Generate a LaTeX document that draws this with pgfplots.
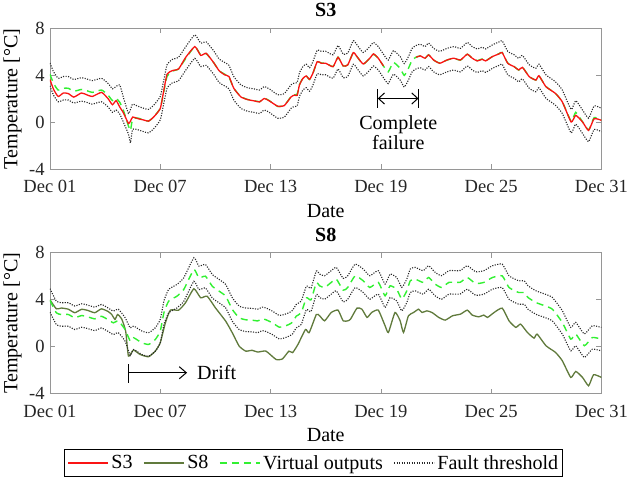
\documentclass[border=0pt]{standalone}
\usepackage{fontspec}
\setmainfont{Liberation Serif}
\usepackage{pgfplots}
\usepackage{pgfplotstable}
\pgfplotsset{compat=1.18}
\usetikzlibrary{arrows.meta}

\definecolor{cSthree}{RGB}{250,20,20}
\definecolor{cSeight}{RGB}{96,122,60}
\definecolor{cV}{RGB}{50,240,50}
\definecolor{cT}{RGB}{40,40,40}
\definecolor{cFrame}{RGB}{150,150,150}

% top panel: day, virtual output, upper / lower fault threshold, S3
\pgfplotstableread{
d v up lo s
1.00 4.10 5.05 3.10 3.65
1.20 3.30 4.30 2.30 2.80
1.45 2.75 3.75 1.75 2.20
1.73 2.90 3.90 1.90 2.50
2.00 2.90 3.90 1.90 2.45
2.30 2.65 3.65 1.65 2.15
2.71 2.80 3.80 1.80 2.50
3.00 2.70 3.70 1.70 2.35
3.30 2.55 3.55 1.55 2.20
3.81 2.75 3.75 1.75 2.55
4.17 2.30 3.30 1.30 2.00
4.40 1.85 2.85 0.85 1.50
4.60 2.05 3.05 1.05 1.85
4.80 1.70 3.20 0.70 1.30
5.00 1.00 2.10 0.00 0.80
5.27 -0.30 0.75 -1.00 -0.10
5.38 -0.70 1.10 -1.75 0.10
5.50 0.30 1.55 -0.60 0.45
5.82 0.35 1.35 -0.65 0.30
6.10 0.20 1.20 -0.80 0.20
6.36 0.10 1.10 -0.90 0.10
6.64 0.45 1.45 -0.55 0.45
7.00 1.20 2.20 0.20 1.17
7.18 2.50 3.50 1.50 2.60
7.37 3.90 4.90 2.90 4.10
7.65 4.35 5.35 3.35 4.40
8.00 4.55 5.55 3.55 4.55
8.37 5.40 6.40 4.40 5.50
8.88 6.45 7.45 5.45 6.45
9.20 5.75 6.75 4.75 5.70
9.50 5.85 6.85 4.85 5.88
9.90 5.10 6.10 4.10 5.10
10.20 4.40 5.40 3.40 4.40
10.50 4.10 5.10 3.10 4.05
10.74 3.85 4.85 2.85 3.90
11.00 2.90 3.90 1.90 2.90
11.38 2.20 3.20 1.20 2.17
11.74 1.95 2.95 0.95 1.94
12.10 1.85 2.85 0.85 1.83
12.40 1.75 2.75 0.75 1.74
12.66 2.05 3.05 1.05 2.03
12.93 1.85 2.85 0.85 1.83
13.39 1.35 2.35 0.35 1.37
13.75 1.45 2.45 0.45 1.43
14.12 2.20 3.20 1.20 2.17
14.30 2.35 3.35 1.35 2.32
14.45 2.40 3.40 1.40 2.30
14.57 3.20 4.20 2.20 3.17
14.76 3.75 4.75 2.75 3.74
14.94 3.95 4.95 2.95 3.95
15.12 3.65 4.65 2.65 3.66
15.30 4.15 5.15 3.15 4.17
15.54 5.15 6.15 4.15 5.17
15.76 5.05 6.05 4.05 5.03
16.00 5.05 6.05 4.05 5.03
16.40 4.75 5.75 3.75 4.74
16.67 5.55 6.55 4.55 5.54
16.95 4.80 5.80 3.80 4.80
17.20 4.90 5.90 3.90 4.89
17.50 5.95 6.95 4.95 5.94
17.70 5.60 6.60 4.60 5.60
18.04 4.95 5.95 3.95 4.97
18.40 5.45 6.45 4.45 5.46
18.60 5.80 6.80 4.80 5.83
18.86 5.45 6.45 4.45 5.46
19.14 4.80 5.80 3.80 4.80
19.40 4.30 5.30 3.30 nan
19.68 5.10 6.10 4.10 nan
20.05 4.60 5.60 3.60 nan
20.27 4.00 5.00 3.00 nan
20.50 4.60 5.60 3.60 nan
20.70 5.30 6.30 4.30 nan
20.92 5.55 6.55 4.55 5.54
21.14 5.65 6.65 4.65 5.66
21.40 5.45 6.45 4.45 5.46
21.60 5.75 6.75 4.75 5.74
21.87 5.30 6.30 4.30 5.31
22.20 5.05 6.05 4.05 5.03
22.60 5.30 6.30 4.30 5.31
22.96 5.45 6.45 4.45 5.46
23.33 5.30 6.30 4.30 5.31
23.70 5.80 6.80 4.80 5.80
23.97 5.45 6.45 4.45 5.46
24.24 5.25 6.25 4.25 5.23
24.52 5.40 6.40 4.40 5.37
24.70 5.25 6.25 4.25 5.23
25.07 5.60 6.60 4.60 5.60
25.43 5.85 6.85 4.85 5.83
25.60 5.95 6.95 4.95 5.94
25.90 5.05 6.05 4.05 5.03
26.25 4.75 5.75 3.75 4.74
26.50 4.45 5.45 3.45 4.46
26.70 4.70 5.70 3.70 4.68
27.07 3.90 4.90 2.90 3.89
27.43 3.60 4.60 2.60 3.60
27.60 3.95 4.95 2.95 3.97
27.98 3.05 4.05 2.05 3.03
28.50 2.45 3.45 1.45 2.46
28.87 1.75 2.75 0.75 1.74
29.35 0.10 1.10 -0.90 0.03
29.60 0.85 1.85 -0.15 0.60
29.97 0.05 1.05 -0.95 0.03
30.30 -0.65 0.35 -1.65 -0.69
30.60 0.40 1.40 -0.60 0.31
31.00 0.20 1.20 -0.80 0.17
}\topdata

% bottom panel: virtual output and fault thresholds
\pgfplotstableread{
d v up lo
1.00 3.95 4.95 2.95
1.35 2.89 3.89 1.89
1.62 2.75 3.75 1.75
2.00 2.75 3.75 1.75
2.35 2.47 3.47 1.47
2.72 2.66 3.66 1.66
3.05 2.55 3.55 1.55
3.44 2.38 3.38 1.38
3.80 2.60 3.60 1.60
4.17 2.30 3.30 1.30
4.45 2.04 3.04 1.04
4.72 2.20 3.20 1.20
5.09 1.47 2.47 0.47
5.37 0.48 1.60 -0.75
5.55 0.77 1.77 -0.23
6.00 0.34 1.34 -0.66
6.37 0.20 1.20 -0.80
6.73 0.62 1.62 -0.38
7.00 1.33 2.33 0.33
7.20 2.90 3.90 1.90
7.46 3.89 4.89 2.89
7.91 4.31 5.31 3.31
8.28 4.88 5.88 3.88
8.83 6.58 7.58 5.58
9.10 5.87 6.87 4.87
9.46 6.01 7.01 5.01
9.83 5.16 6.16 4.16
10.20 4.74 5.74 3.74
10.56 4.31 5.31 3.31
10.92 3.18 4.18 2.18
11.29 2.47 3.47 1.47
11.65 2.30 3.30 1.30
12.00 2.27 3.27 1.27
12.30 2.20 3.20 1.20
12.55 2.38 3.38 1.38
12.75 2.30 3.30 1.30
13.10 2.04 3.04 1.04
13.47 1.67 2.67 0.67
13.75 1.75 2.75 0.75
14.00 1.90 2.90 0.90
14.20 2.10 3.10 1.10
14.40 2.61 3.61 1.61
14.67 2.90 3.90 1.90
14.95 4.17 5.17 3.17
15.20 4.00 5.00 3.00
15.49 5.45 6.45 4.45
15.67 5.19 6.19 4.19
15.94 5.05 6.05 4.05
16.30 5.48 6.48 4.48
16.58 5.76 6.76 4.76
16.95 4.82 5.82 3.82
17.20 5.05 6.05 4.05
17.60 6.04 7.04 5.04
18.04 5.62 6.62 4.62
18.40 5.05 6.05 4.05
18.86 5.48 6.48 4.48
19.23 4.34 5.34 3.34
19.50 5.19 6.19 4.19
19.86 4.90 5.90 3.90
20.14 4.06 5.06 3.06
20.41 4.76 5.76 3.76
20.60 5.62 6.62 4.62
20.87 5.76 6.76 4.76
21.30 5.48 6.48 4.48
21.60 5.90 6.90 4.90
21.96 5.33 6.33 4.33
22.30 5.05 6.05 4.05
22.70 5.48 6.48 4.48
23.06 5.48 6.48 4.48
23.33 5.50 6.50 4.50
23.70 5.90 6.90 4.90
24.15 5.39 6.39 4.39
24.60 5.48 6.48 4.48
25.07 5.90 6.90 4.90
25.60 6.04 7.04 5.04
25.97 5.05 6.05 4.05
26.50 4.62 5.62 3.62
26.80 4.62 5.62 3.62
27.00 4.20 5.20 3.20
27.43 3.77 4.77 2.77
27.90 3.50 4.50 2.50
28.33 3.20 4.20 2.20
28.87 2.07 3.07 1.07
29.33 0.65 1.65 -0.35
29.60 1.08 2.08 0.08
30.07 0.09 1.09 -0.91
30.50 0.79 1.79 -0.21
31.00 0.65 1.65 -0.35
}\botdata

% bottom panel: S8 measurements
\pgfplotstableread{
d s
1.00 4.00
1.35 3.23
1.62 3.30
2.00 3.20
2.35 2.90
2.72 3.19
3.05 3.10
3.44 2.90
3.80 3.23
4.17 3.00
4.36 2.75
4.54 2.33
4.68 2.75
4.90 2.38
5.12 1.33
5.27 -0.79
5.54 -0.28
5.90 -0.65
6.36 -0.85
6.73 -0.37
7.00 0.34
7.28 2.04
7.55 3.12
8.00 3.12
8.37 3.74
8.83 4.94
9.20 4.17
9.55 4.31
10.00 3.32
10.56 2.18
10.92 1.19
11.29 0.06
11.65 -0.37
12.00 -0.30
12.30 -0.45
12.75 -0.37
13.30 -1.08
13.65 -1.03
14.00 -0.37
14.20 -0.50
14.49 0.20
14.90 1.47
15.10 1.20
15.49 2.75
15.67 2.64
15.94 2.21
16.30 2.92
16.67 3.12
16.95 2.21
17.20 2.21
17.35 2.35
17.70 3.29
17.97 3.20
18.25 2.50
18.50 2.92
18.86 3.12
19.23 1.79
19.41 1.22
19.77 2.92
20.05 2.21
20.23 1.22
20.50 2.64
20.78 2.92
21.05 3.20
21.24 2.92
21.50 3.06
21.78 2.92
22.15 2.50
22.50 2.27
22.90 2.64
23.33 2.78
23.70 3.12
23.97 2.70
24.33 2.55
24.60 2.70
24.80 2.50
25.16 2.92
25.60 3.29
25.97 2.21
26.34 1.65
26.60 1.93
26.97 1.22
27.33 0.74
27.50 1.08
27.98 0.09
28.50 -0.48
28.87 -1.19
29.33 -2.61
29.60 -2.10
29.97 -2.61
30.30 -3.32
30.57 -2.38
31.00 -2.61
}\seightdata

\newcommand{\bigfont}{\fontsize{20}{20}\selectfont}
\newcommand{\tickfont}{\fontsize{18.5}{20}\selectfont}

\tikzset{
  sthree/.style={cSthree, line width=1.3bp},
  seight/.style={cSeight, line width=1.3bp},
  virt/.style={cV, line width=1.4bp, dash pattern=on 7bp off 5bp},
  thr/.style={cT, line width=1.1bp, dash pattern=on 1.1bp off 1.4bp},
}

\pgfplotsset{
  myaxis/.style={
    scale only axis, width=548bp, height=140bp,
    anchor=north west,
    xmin=1, xmax=31, ymin=-4, ymax=8,
    xtick={1,7,13,19,25,31},
    xticklabels={Dec 01,Dec 07,Dec 13,Dec 19,Dec 25,Dec 31},
    ytick={-4,0,4,8},
    tick align=inside, major tick length=5bp,
    axis line style={cFrame, line width=0.7bp},
    tick style={cFrame, line width=0.7bp},
    /pgf/number format/assume math mode=true,
    every tick label/.append style={font=\tickfont, text=black!85},
    xticklabel style={font=\tickfont, inner sep=0pt, yshift=-11bp},
    yticklabel style={font=\tickfont, inner sep=0pt, xshift=-5bp},
    xlabel style={font=\bigfont, at={(axis description cs:0.5,-0.295)}, anchor=center},
    ylabel style={font=\bigfont, at={(axis description cs:-0.068,0.5)}, anchor=center},
    title style={font=\bigfont\bfseries, at={(axis description cs:0.5,1.0)}, anchor=south, yshift=2bp},
    xlabel={Date}, ylabel={Temperature [°C]},
    unbounded coords=jump,
    legend image code/.code={\draw[#1] (0bp,0bp) -- (40bp,0bp);},
  },
}

\begin{document}
\begin{tikzpicture}
\begin{axis}[myaxis, at={(0,0)}, title={S3}]
  \addplot[thr, smooth, tension=0.3] table[x=d, y=up] {\topdata};
  \addplot[thr, smooth, tension=0.3] table[x=d, y=lo] {\topdata};
  \addplot[virt, smooth, tension=0.3] table[x=d, y=v] {\topdata};
  \addplot[sthree, smooth, tension=0.3] table[x=d, y=s] {\topdata};
  \draw[line width=1bp, {Straight Barb[length=6bp,width=11bp]}-{Straight Barb[length=6bp,width=11bp]}]
      (axis cs:18.83,2.03) -- (axis cs:21.05,2.03);
  \draw[line width=1bp] (axis cs:18.83,2.83) -- (axis cs:18.83,1.23);
  \draw[line width=1bp] (axis cs:21.05,2.83) -- (axis cs:21.05,1.23);
  \node[align=center, inner sep=0pt, font=\bigfont] at (axis cs:19.95,-0.85) {Complete\\failure};
\end{axis}

\begin{axis}[myaxis, at={(0,-223bp)}, title={S8},
    legend columns=4,
    legend style={at={(axis description cs:0.478,-0.395)}, anchor=north, draw=black, line width=0.7bp,
      font=\bigfont, inner xsep=3bp, inner ysep=3.5bp,
      nodes={inner xsep=1.5bp, inner ysep=2bp},
      /tikz/every odd column/.append style={column sep=1bp},
      /tikz/every even column/.append style={column sep=9bp}}]
  \addlegendimage{cSthree, line width=1.3bp}
  \addlegendentry{S3}
  \addplot[seight, smooth, tension=0.3] table[x=d, y=s] {\seightdata};
  \addlegendentry{S8}
  \addplot[virt, smooth, tension=0.3] table[x=d, y=v] {\botdata};
  \addlegendentry{Virtual outputs}
  \addplot[thr, smooth, tension=0.3] table[x=d, y=up] {\botdata};
  \addlegendentry{Fault threshold}
  \addplot[thr, smooth, tension=0.3, forget plot] table[x=d, y=lo] {\botdata};
  \draw[line width=1bp, -{Straight Barb[length=7bp,width=12bp]}]
      (axis cs:5.27,-2.21) -- (axis cs:8.46,-2.21);
  \draw[line width=1bp] (axis cs:5.27,-1.5) -- (axis cs:5.27,-3.06);
  \node[anchor=west, inner sep=0pt, font=\bigfont] at (axis cs:9.0,-2.21) {Drift};
\end{axis}
\end{tikzpicture}
\end{document}
